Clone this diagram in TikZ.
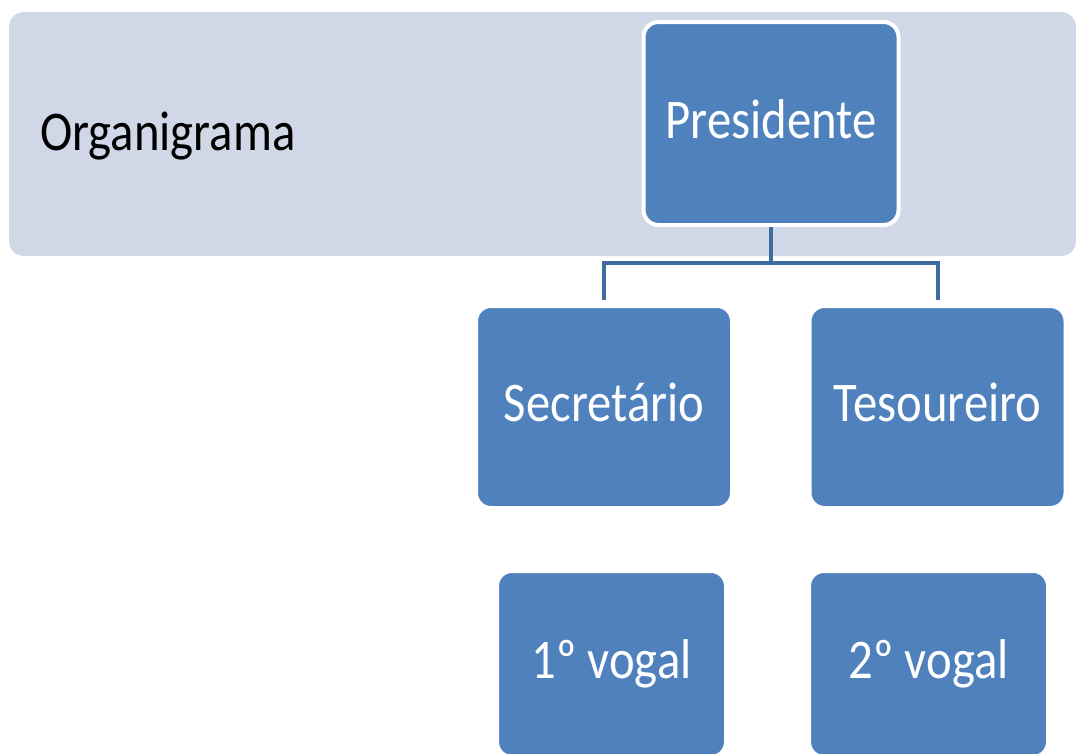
\documentclass[tikz,border=0pt]{standalone}
\usepackage{fontspec}
\setmainfont{Carlito}[FakeStretch=0.87]
\definecolor{band}{HTML}{D0D8E8}
\definecolor{boxfill}{HTML}{4F81BD}
\definecolor{conn}{HTML}{3F6C9E}
\tikzset{
  orgbox/.style={rectangle, rounded corners=15pt, fill=boxfill, draw=white, line width=4pt,
    inner sep=0pt, text=white, font=\fontsize{56}{60}\selectfont,
    text height=35pt, text depth=6pt, align=center},
  orgline/.style={draw=conn, line width=4pt}
}
\begin{document}
\begin{tikzpicture}[x=1pt,y=-1pt]
\useasboundingbox (0,0) rectangle (1076,753);
\fill[band, rounded corners=15pt] (9,12) rectangle (1076,256);
\node[anchor=base west, inner sep=0pt, font=\fontsize{56}{60}\selectfont] (title) at (40,150) {Organigrama};
\node[orgbox, minimum width=255pt, minimum height=203pt] (pres) at (771,123.5) {Presidente};
\node[orgbox, minimum width=256pt, minimum height=202pt] (sec) at (604,407) {Secretário};
\node[orgbox, minimum width=256pt, minimum height=202pt] (tes) at (937.5,407) {Tesoureiro};
\node[orgbox, minimum width=229pt, minimum height=186pt] (v1) at (611.5,664) {1º vogal};
\node[orgbox, minimum width=239pt, minimum height=186pt] (v2) at (928.5,664) {2º vogal};
\coordinate (hub) at (771,263);
\draw[orgline] (pres.south) -- (hub);
\draw[orgline] (hub) -| ([yshift=4pt]sec.north);
\draw[orgline] (hub) -| ([yshift=4pt]tes.north);
\end{tikzpicture}
\end{document}
